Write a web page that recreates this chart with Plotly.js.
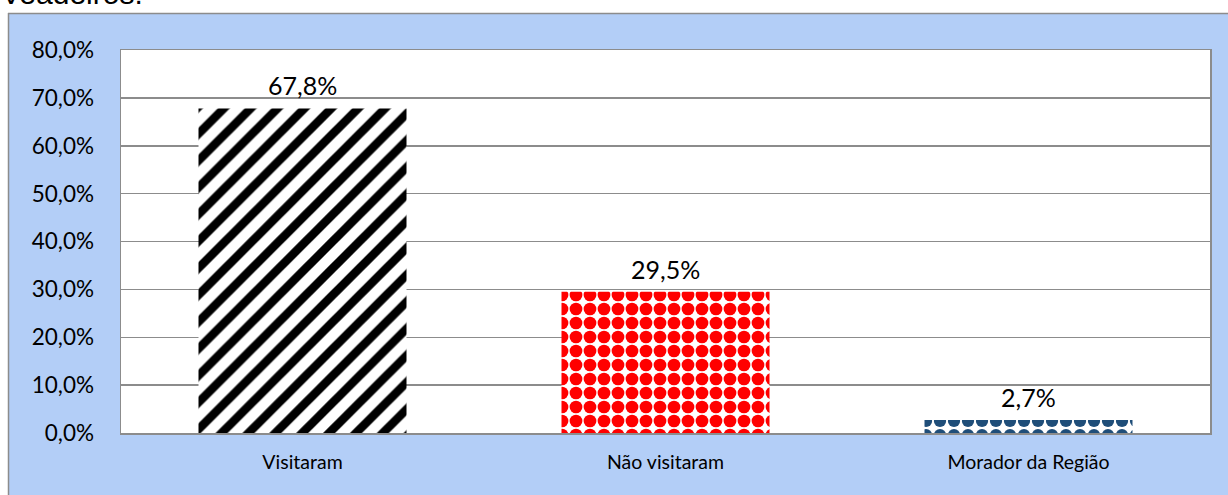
<!DOCTYPE html>
<html><head><meta charset="utf-8">
<script src="https://cdn.plot.ly/plotly-3.0.1.min.js"></script>
<style>html,body{margin:0;padding:0;background:#fff}#chart{width:1228px;height:495px}</style>
</head><body><div id="chart"></div>
<script>
const categories = ['Visitaram', 'Não visitaram', 'Morador da Região'];
const values = [0.678, 0.295, 0.027];
const barColors = ['#000000', '#FF0000', '#1F4E79'];
const patternShapes = ['/', '.', '.'];
const titleText = 'Veadeiros.';

const W = 1228, H = 495, L = 121, R = 18, T = 50, B = 62;
const pw = W - L - R, ph = H - T - B;
const px = x => (x - L) / pw;
const py = y => 1 - (y - T) / ph;

const trace = {
  type: 'bar', x: categories, y: values,
  marker: {
    color: '#ffffff',
    line: {width: 0},
    pattern: {
      shape: patternShapes,
      fgcolor: barColors,
      bgcolor: '#ffffff',
      fgopacity: 1,
      size: [19, 14, 14],
      solidity: [0.45, 0.65, 0.6],
      fillmode: 'replace'
    }
  },
  hoverinfo: 'none'
};

const fmt = v => (v * 100).toFixed(1).replace('.', ',') + '%';
const labelAnnotations = categories.map((c, i) => ({
  x: c, y: values[i], xref: 'x', yref: 'y', text: fmt(values[i]),
  xanchor: 'center', yanchor: 'bottom', yshift: 6, showarrow: false,
  font: {family: 'Lato, Carlito, sans-serif', size: 25, color: '#000'}
}));

const layout = {
  width: W, height: H,
  margin: {l: L, r: R, t: T, b: B, pad: 0},
  separators: ',.',
  paper_bgcolor: '#B3CEF7',
  plot_bgcolor: '#ffffff',
  bargap: 0.427,
  showlegend: false,
  font: {family: 'Lato, Carlito, sans-serif', color: '#000'},
  xaxis: {
    showgrid: false, showline: true, mirror: true, linecolor: '#8C8C8C', linewidth: 1.5,
    ticks: 'outside', ticklen: 11, tickcolor: 'rgba(0,0,0,0)',
    tickfont: {size: 19.5, color: '#000'}, fixedrange: true
  },
  yaxis: {
    range: [0, 0.8], dtick: 0.1, tickformat: '.1%',
    showgrid: true, gridcolor: '#8C8C8C', gridwidth: 1.5,
    showline: true, mirror: true, linecolor: '#8C8C8C', linewidth: 1.5,
    zeroline: false,
    ticks: 'outside', ticklen: 21, tickcolor: 'rgba(0,0,0,0)',
    tickfont: {size: 22.5, color: '#000'}, fixedrange: true
  },
  shapes: [
    {type: 'rect', xref: 'paper', yref: 'paper', x0: px(-5), x1: px(W + 5), y0: py(13), y1: py(-5), fillcolor: '#ffffff', line: {width: 0}, layer: 'below'},
    {type: 'rect', xref: 'paper', yref: 'paper', x0: px(-5), x1: px(8), y0: py(H + 5), y1: py(-5), fillcolor: '#ffffff', line: {width: 0}, layer: 'below'},
    {type: 'line', xref: 'paper', yref: 'paper', x0: px(8), x1: px(W + 5), y0: py(13.5), y1: py(13.5), line: {color: '#8C8C8C', width: 1.5}, layer: 'below'},
    {type: 'line', xref: 'paper', yref: 'paper', x0: px(8.5), x1: px(8.5), y0: py(13), y1: py(H + 5), line: {color: '#8C8C8C', width: 1.5}, layer: 'below'}
  ],
  annotations: [
    {text: titleText, xref: 'paper', yref: 'paper', x: px(-1), y: py(12), xanchor: 'left', yanchor: 'bottom',
     showarrow: false, font: {family: 'Liberation Sans, Arial, sans-serif', size: 30, color: '#000'}}
  ].concat(labelAnnotations)
};

Plotly.newPlot('chart', [trace], layout, {displayModeBar: false, staticPlot: true});
</script></body></html>
